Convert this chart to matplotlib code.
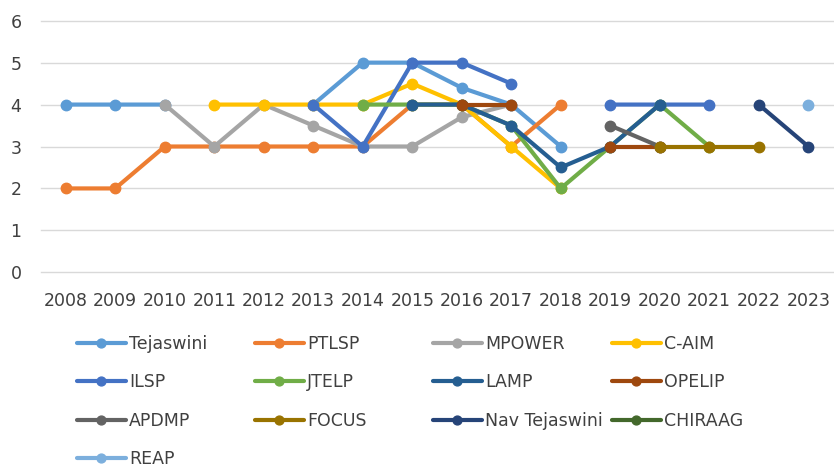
import matplotlib
matplotlib.use('Agg')
import matplotlib.pyplot as plt
import numpy as np

nan = np.nan
years = [str(y) for y in range(2008, 2024)]

# values per year 2008..2023, nan = no value
tejaswini = [4, 4, 4, nan, nan, 4, 5, 5, 4.4, 4, 3, nan, nan, nan, nan, nan]
ptlsp = [2, 2, 3, 3, 3, 3, 3, 4, 4, 3, 4, nan, nan, nan, nan, nan]
mpower = [nan, nan, 4, 3, 4, 3.5, 3, 3, 3.7, 4, nan, nan, nan, nan, nan, nan]
caim = [nan, nan, nan, 4, 4, 4, 4, 4.5, 4, 3, 2, nan, nan, nan, nan, nan]
ilsp = [nan, nan, nan, nan, nan, 4, 3, 5, 5, 4.5, nan, 4, 4, 4, nan, nan]
jtelp = [nan, nan, nan, nan, nan, nan, 4, 4, 4, 3.5, 2, 3, 4, 3, nan, nan]
lamp = [nan, nan, nan, nan, nan, nan, nan, 4, 4, 3.5, 2.5, 3, 4, nan, nan, nan]
opelip = [nan, nan, nan, nan, nan, nan, nan, nan, 4, 4, nan, 3, 3, nan, nan, nan]
apdmp = [nan] * 11 + [3.5, 3, nan, nan, nan]
focus = [nan] * 12 + [3, 3, 3, nan]
nav_tejaswini = [nan] * 14 + [4, 3]
chiraag = [nan] * 16
reap = [nan] * 15 + [4]

names = ['Tejaswini', 'PTLSP', 'MPOWER', 'C-AIM', 'ILSP', 'JTELP', 'LAMP',
         'OPELIP', 'APDMP', 'FOCUS', 'Nav Tejaswini', 'CHIRAAG', 'REAP']
series = [tejaswini, ptlsp, mpower, caim, ilsp, jtelp, lamp, opelip,
          apdmp, focus, nav_tejaswini, chiraag, reap]
colors = ['#5B9BD5', '#ED7D31', '#A5A5A5', '#FFC000', '#4472C4', '#70AD47',
          '#255E91', '#9E480E', '#636363', '#997300', '#264478', '#43682B',
          '#7CAFDD']

plt.rcParams['font.family'] = ['DejaVu Sans']
fs = 12.5

fig = plt.figure(figsize=(8.34, 4.68), dpi=100)
ax = fig.add_axes([41 / 834, 1 - 272.3 / 468, 792 / 834, 251.6 / 468])

x = np.arange(len(years))
lines = []
for name, vals, c in zip(names, series, colors):
    ln, = ax.plot(x, vals, color=c, lw=3, marker='o', ms=7.5,
                  label=name, solid_capstyle='round')
    lines.append(ln)

ax.set_xlim(-0.5, len(years) - 0.5)
ax.set_ylim(0, 6)
ax.set_xticks(x)
ax.set_xticklabels(years)
ax.set_yticks(range(0, 7))
ax.tick_params(axis='both', length=0, labelsize=fs, colors='#404040')
ax.tick_params(axis='x', pad=14)
ax.tick_params(axis='y', pad=14)
ax.grid(axis='y', color='#D9D9D9', lw=1)
for gl in ax.get_ygridlines():
    gl.set_clip_on(False)
ax.set_axisbelow(True)
for s in ax.spines.values():
    s.set_visible(False)

# Excel-style legend: four evenly placed columns
col_x = [77, 255, 433, 612]
for i, cx in enumerate(col_x):
    hs = lines[i::4]
    leg = fig.legend(hs, [h.get_label() for h in hs], loc='upper left',
                     bbox_to_anchor=(cx / 834, 1 - 335 / 468),
                     frameon=False, fontsize=fs, borderpad=0,
                     borderaxespad=0, handlelength=2.8, handletextpad=0.2,
                     labelspacing=1.18, markerscale=0.85)
    for t in leg.get_texts():
        t.set_color('#404040')

fig.savefig('out.png', dpi=100)
